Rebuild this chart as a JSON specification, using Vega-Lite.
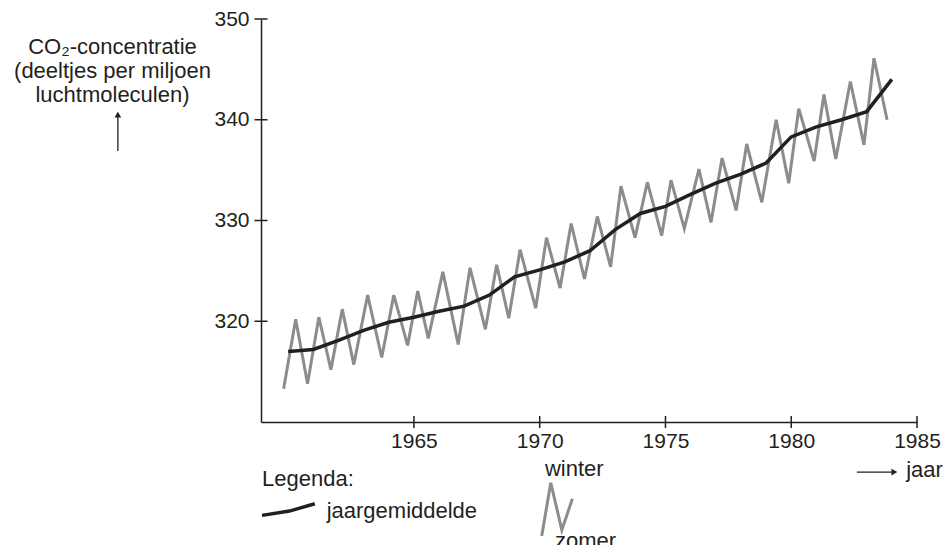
{
  "$schema": "https://vega.github.io/schema/vega-lite/v6.json",
  "width": 656,
  "height": 403,
  "autosize": {"type": "none"},
  "padding": {"left": 261, "top": 19, "right": 27, "bottom": 123},
  "config": {
    "font": "Liberation Sans",
    "view": {"stroke": null},
    "axis": {"labelFont": "Liberation Sans", "titleFont": "Liberation Sans"}
  },
  "datasets": {
    "seizoen": [
      {"jaar": 1959.82, "co2": 313.3},
      {"jaar": 1960.30, "co2": 320.2},
      {"jaar": 1960.77, "co2": 313.8},
      {"jaar": 1961.22, "co2": 320.4},
      {"jaar": 1961.70, "co2": 315.2},
      {"jaar": 1962.15, "co2": 321.2},
      {"jaar": 1962.61, "co2": 315.7},
      {"jaar": 1963.16, "co2": 322.6},
      {"jaar": 1963.72, "co2": 316.4},
      {"jaar": 1964.20, "co2": 322.6},
      {"jaar": 1964.75, "co2": 317.6},
      {"jaar": 1965.15, "co2": 323.0},
      {"jaar": 1965.57, "co2": 318.3},
      {"jaar": 1966.15, "co2": 324.9},
      {"jaar": 1966.76, "co2": 317.7},
      {"jaar": 1967.23, "co2": 325.3},
      {"jaar": 1967.84, "co2": 319.2},
      {"jaar": 1968.29, "co2": 325.6},
      {"jaar": 1968.77, "co2": 320.3},
      {"jaar": 1969.22, "co2": 327.1},
      {"jaar": 1969.84, "co2": 321.3},
      {"jaar": 1970.27, "co2": 328.3},
      {"jaar": 1970.81, "co2": 323.3},
      {"jaar": 1971.25, "co2": 329.7},
      {"jaar": 1971.78, "co2": 324.2},
      {"jaar": 1972.29, "co2": 330.4},
      {"jaar": 1972.82, "co2": 325.4},
      {"jaar": 1973.23, "co2": 333.4},
      {"jaar": 1973.79, "co2": 328.3},
      {"jaar": 1974.28, "co2": 333.8},
      {"jaar": 1974.85, "co2": 328.5},
      {"jaar": 1975.22, "co2": 334.0},
      {"jaar": 1975.75, "co2": 329.2},
      {"jaar": 1976.33, "co2": 335.1},
      {"jaar": 1976.81, "co2": 329.8},
      {"jaar": 1977.25, "co2": 336.2},
      {"jaar": 1977.81, "co2": 331.0},
      {"jaar": 1978.23, "co2": 337.6},
      {"jaar": 1978.83, "co2": 331.8},
      {"jaar": 1979.40, "co2": 340.0},
      {"jaar": 1979.90, "co2": 333.7},
      {"jaar": 1980.30, "co2": 341.1},
      {"jaar": 1980.91, "co2": 335.9},
      {"jaar": 1981.30, "co2": 342.5},
      {"jaar": 1981.77, "co2": 336.1},
      {"jaar": 1982.35, "co2": 343.8},
      {"jaar": 1982.89, "co2": 337.5},
      {"jaar": 1983.29, "co2": 346.1},
      {"jaar": 1983.81, "co2": 340.0}
    ],
    "gemiddelde": [
      {"jaar": 1960, "co2": 317.0},
      {"jaar": 1961, "co2": 317.2},
      {"jaar": 1962, "co2": 318.1},
      {"jaar": 1963, "co2": 319.1},
      {"jaar": 1964, "co2": 319.9},
      {"jaar": 1965, "co2": 320.4},
      {"jaar": 1966, "co2": 321.0},
      {"jaar": 1967, "co2": 321.5},
      {"jaar": 1968, "co2": 322.6},
      {"jaar": 1969, "co2": 324.4},
      {"jaar": 1970, "co2": 325.1},
      {"jaar": 1971, "co2": 325.9},
      {"jaar": 1972, "co2": 327.0},
      {"jaar": 1973, "co2": 329.1},
      {"jaar": 1974, "co2": 330.7},
      {"jaar": 1975, "co2": 331.4},
      {"jaar": 1976, "co2": 332.6},
      {"jaar": 1977, "co2": 333.7},
      {"jaar": 1978, "co2": 334.6},
      {"jaar": 1979, "co2": 335.7},
      {"jaar": 1980, "co2": 338.3},
      {"jaar": 1981, "co2": 339.3},
      {"jaar": 1982, "co2": 340.0},
      {"jaar": 1983, "co2": 340.8},
      {"jaar": 1984, "co2": 344.0}
    ],
    "legendaLijn": [
      {"jaar": 1958.96, "co2": 300.73},
      {"jaar": 1960.05, "co2": 301.16},
      {"jaar": 1961.06, "co2": 301.89}
    ],
    "legendaZigzag": [
      {"jaar": 1970.08, "co2": 298.68},
      {"jaar": 1970.44, "co2": 303.97},
      {"jaar": 1970.88, "co2": 299.28},
      {"jaar": 1971.30, "co2": 302.38}
    ],
    "teksten": [
      {"tekst": "Legenda:", "jaar": 1958.96, "co2": 303.64},
      {"tekst": "jaargemiddelde", "jaar": 1961.53, "co2": 300.47},
      {"tekst": "winter", "jaar": 1970.21, "co2": 304.64},
      {"tekst": "zomer", "jaar": 1970.61, "co2": 297.49},
      {"tekst": "jaar", "jaar": 1984.57, "co2": 304.54}
    ]
  },
  "layer": [
    {
      "data": {"name": "seizoen"},
      "mark": {"type": "line", "color": "#8c8c8c", "strokeWidth": 3, "strokeJoin": "miter"},
      "encoding": {
        "x": {
          "field": "jaar", "type": "quantitative",
          "scale": {"domain": [1958.92, 1985], "zero": false, "nice": false},
          "axis": {
            "values": [1965, 1970, 1975, 1980, 1985],
            "format": "d",
            "title": null,
            "grid": false,
            "ticks": false,
            "domainColor": "#231f20",
            "domainWidth": 1.5,
            "labelFontSize": 21,
            "labelColor": "#231f20",
            "labelPadding": 8,
            "labelFlush": false
          }
        },
        "y": {
          "field": "co2", "type": "quantitative",
          "scale": {"domain": [310, 350], "zero": false, "nice": false},
          "axis": {
            "values": [320, 330, 340, 350],
            "grid": false,
            "ticks": false,
            "domainColor": "#231f20",
            "domainWidth": 1.5,
            "labelFontSize": 21,
            "labelColor": "#231f20",
            "labelPadding": 12,
            "labelFlush": false,
            "title": ["CO₂-concentratie", "(deeltjes per miljoen", "luchtmoleculen)"],
            "titleAngle": 0,
            "titleAlign": "center",
            "titleBaseline": "alphabetic",
            "titleX": -149,
            "titleY": 34,
            "titleFontSize": 22,
            "titleFontWeight": "normal",
            "titleColor": "#231f20",
            "titleLineHeight": 24
          }
        }
      }
    },
    {
      "data": {"name": "gemiddelde"},
      "mark": {"type": "line", "color": "#231f20", "strokeWidth": 3.5},
      "encoding": {
        "x": {"field": "jaar", "type": "quantitative", "scale": {"domain": [1958.92, 1985], "zero": false, "nice": false}},
        "y": {"field": "co2", "type": "quantitative", "scale": {"domain": [310, 350], "zero": false, "nice": false}}
      }
    },
    {
      "data": {"values": [{"co2": 320}, {"co2": 330}, {"co2": 340}, {"co2": 350}]},
      "mark": {"type": "tick", "orient": "horizontal", "size": 13, "thickness": 1.5, "color": "#231f20", "opacity": 1},
      "encoding": {
        "x": {"datum": 1958.92, "type": "quantitative", "scale": {"domain": [1958.92, 1985], "zero": false, "nice": false}},
        "y": {"field": "co2", "type": "quantitative", "scale": {"domain": [310, 350], "zero": false, "nice": false}}
      }
    },
    {
      "data": {"values": [{"jaar": 1965}, {"jaar": 1970}, {"jaar": 1975}, {"jaar": 1980}, {"jaar": 1985}]},
      "mark": {"type": "tick", "orient": "vertical", "size": 12, "thickness": 1.5, "color": "#231f20", "opacity": 1},
      "encoding": {
        "x": {"field": "jaar", "type": "quantitative", "scale": {"domain": [1958.92, 1985], "zero": false, "nice": false}},
        "y": {"datum": 310, "type": "quantitative", "scale": {"domain": [310, 350], "zero": false, "nice": false}}
      }
    },
    {
      "data": {"name": "legendaLijn"},
      "mark": {"type": "line", "color": "#231f20", "strokeWidth": 3.5, "clip": false},
      "encoding": {
        "x": {"field": "jaar", "type": "quantitative", "scale": {"domain": [1958.92, 1985], "zero": false, "nice": false}},
        "y": {"field": "co2", "type": "quantitative", "scale": {"domain": [310, 350], "zero": false, "nice": false}}
      }
    },
    {
      "data": {"name": "legendaZigzag"},
      "mark": {"type": "line", "color": "#8c8c8c", "strokeWidth": 3, "strokeJoin": "miter", "clip": false},
      "encoding": {
        "x": {"field": "jaar", "type": "quantitative", "scale": {"domain": [1958.92, 1985], "zero": false, "nice": false}},
        "y": {"field": "co2", "type": "quantitative", "scale": {"domain": [310, 350], "zero": false, "nice": false}}
      }
    },
    {
      "data": {"name": "teksten"},
      "mark": {"type": "text", "align": "left", "baseline": "alphabetic", "fontSize": 22, "color": "#231f20", "font": "Liberation Sans"},
      "encoding": {
        "x": {"field": "jaar", "type": "quantitative", "scale": {"domain": [1958.92, 1985], "zero": false, "nice": false}},
        "y": {"field": "co2", "type": "quantitative", "scale": {"domain": [310, 350], "zero": false, "nice": false}},
        "text": {"field": "tekst"}
      }
    },
    {
      "data": {"values": [{}]},
      "mark": {"type": "rule", "color": "#231f20", "strokeWidth": 1.3},
      "encoding": {
        "x": {"datum": 1982.61, "type": "quantitative", "scale": {"domain": [1958.92, 1985], "zero": false, "nice": false}},
        "x2": {"datum": 1984.0},
        "y": {"datum": 305.03, "type": "quantitative", "scale": {"domain": [310, 350], "zero": false, "nice": false}}
      }
    },
    {
      "data": {"values": [{}]},
      "mark": {"type": "point", "shape": "triangle-right", "filled": true, "size": 45, "color": "#231f20", "opacity": 1},
      "encoding": {
        "x": {"datum": 1984.1, "type": "quantitative", "scale": {"domain": [1958.92, 1985], "zero": false, "nice": false}},
        "y": {"datum": 305.03, "type": "quantitative", "scale": {"domain": [310, 350], "zero": false, "nice": false}}
      }
    },
    {
      "data": {"values": [{}]},
      "mark": {"type": "rule", "color": "#231f20", "strokeWidth": 1.3},
      "encoding": {
        "x": {"datum": 1953.23, "type": "quantitative", "scale": {"domain": [1958.92, 1985], "zero": false, "nice": false}},
        "y": {"datum": 336.91, "type": "quantitative", "scale": {"domain": [310, 350], "zero": false, "nice": false}},
        "y2": {"datum": 340.4}
      }
    },
    {
      "data": {"values": [{}]},
      "mark": {"type": "point", "shape": "triangle-up", "filled": true, "size": 45, "color": "#231f20", "opacity": 1},
      "encoding": {
        "x": {"datum": 1953.23, "type": "quantitative", "scale": {"domain": [1958.92, 1985], "zero": false, "nice": false}},
        "y": {"datum": 340.5, "type": "quantitative", "scale": {"domain": [310, 350], "zero": false, "nice": false}}
      }
    }
  ]
}
